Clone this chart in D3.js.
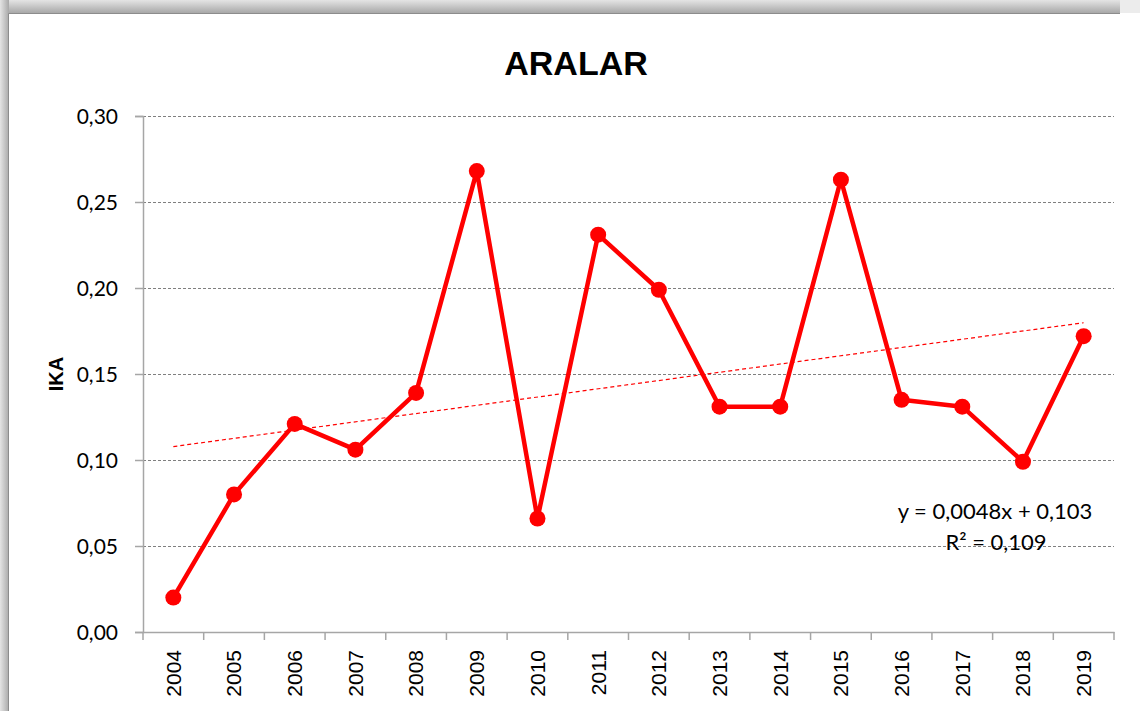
<!DOCTYPE html>
<html>
<head>
<meta charset="utf-8">
<script src="https://d3js.org/d3.v7.min.js"></script>
<style>
  body { margin: 0; background: #fff; }
  svg text { fill: #000; }
  .tick-y { font: 21px Lato, 'Open Sans', sans-serif; }
  .tick-x { font: 21px 'Liberation Sans', Arial, sans-serif; }
</style>
</head>
<body>
<svg width="1140" height="711"></svg>
<script>
  let years = ['2004','2005','2006','2007','2008','2009','2010','2011','2012','2013','2014','2015','2016','2017','2018','2019']
  let ika = [0.020, 0.080, 0.121, 0.106, 0.139, 0.268, 0.066, 0.231, 0.199, 0.131, 0.131, 0.263, 0.135, 0.131, 0.099, 0.172]
  let yTicks = [0, 0.05, 0.10, 0.15, 0.20, 0.25, 0.30]
  let trendSlope = 0.0048, trendIntercept = 0.103
  let eqLines = ['y = 0,0048x + 0,103', 'R² = 0,109']

  let svg = d3.select('svg')
  let margin = {left: 143, right: 26, top: 116, bottom: 79}
  let width = 1140 - margin.left - margin.right,
      height = 711 - margin.top - margin.bottom

  // frame with shadow edge
  let defs = svg.append('defs')
  let gt = defs.append('linearGradient').attr('id', 'gtop').attr('x1', 0).attr('y1', 0).attr('x2', 0).attr('y2', 1)
  gt.append('stop').attr('offset', '0%').attr('stop-color', '#e4e4e4')
  gt.append('stop').attr('offset', '100%').attr('stop-color', '#a8a8a8')
  let gl = defs.append('linearGradient').attr('id', 'gleft').attr('x1', 0).attr('y1', 0).attr('x2', 1).attr('y2', 0)
  gl.append('stop').attr('offset', '0%').attr('stop-color', '#e4e4e4')
  gl.append('stop').attr('offset', '100%').attr('stop-color', '#a8a8a8')
  svg.append('rect').attr('x', 0).attr('y', 0).attr('width', 1140).attr('height', 13).attr('fill', 'url(#gtop)')
  svg.append('rect').attr('x', 0).attr('y', 0).attr('width', 9).attr('height', 711).attr('fill', 'url(#gleft)')
  svg.append('rect').attr('x', 1120).attr('y', 0).attr('width', 20).attr('height', 13).attr('fill', '#ececec')
  svg.append('line').attr('x1', 8.5).attr('x2', 1120).attr('y1', 13.5).attr('y2', 13.5).attr('stroke', '#8c8c8c')
  svg.append('line').attr('x1', 8.5).attr('x2', 8.5).attr('y1', 13.5).attr('y2', 711).attr('stroke', '#8c8c8c')

  let x = d3.scaleBand().domain(years).range([margin.left, margin.left + width])
  let y = d3.scaleLinear().domain([0, 0.30]).range([margin.top + height, margin.top])
  let fmt = d => d3.format('.2f')(d).replace('.', ',')

  // gridlines
  svg.append('g').selectAll('line')
    .data(yTicks.filter(d => d > 0))
    .enter().append('line')
    .attr('x1', margin.left).attr('x2', margin.left + width)
    .attr('y1', d => Math.round(y(d)) + 0.5).attr('y2', d => Math.round(y(d)) + 0.5)
    .attr('stroke', '#7f7f7f').attr('stroke-width', 1).attr('stroke-dasharray', '3,2')

  // y axis
  let yAxis = svg.append('g')
    .attr('transform', 'translate(' + margin.left + ',0)')
    .call(d3.axisLeft(y).tickValues(yTicks).tickFormat(fmt).tickSize(8).tickPadding(17))
  yAxis.select('.domain').attr('stroke', '#a6a6a6').attr('stroke-width', 1.5)
  yAxis.selectAll('.tick line').attr('stroke', '#a6a6a6').attr('stroke-width', 1.5)
  yAxis.selectAll('text').attr('class', 'tick-y').attr('dy', '0.35em')

  // x axis
  let xAxis = svg.append('g')
    .attr('transform', 'translate(0,' + (margin.top + height) + ')')
    .call(d3.axisBottom(x).tickSize(0))
  xAxis.select('.domain').attr('stroke', '#a6a6a6').attr('stroke-width', 1.5)
  xAxis.selectAll('.tick text')
    .attr('class', 'tick-x')
    .attr('transform', 'rotate(-90)')
    .attr('text-anchor', 'end')
    .attr('x', -18).attr('y', 0).attr('dy', '0.35em')
  xAxis.selectAll('.sep')
    .data(years.concat(['end']))
    .enter().append('line')
    .attr('x1', (d, i) => margin.left + i * x.bandwidth())
    .attr('x2', (d, i) => margin.left + i * x.bandwidth())
    .attr('y1', 0).attr('y2', 8)
    .attr('stroke', '#a6a6a6').attr('stroke-width', 1.5)

  // trendline
  let cx = d => x(d) + x.bandwidth() / 2
  svg.append('line')
    .attr('x1', cx(years[0])).attr('y1', y(trendSlope * 1 + trendIntercept))
    .attr('x2', cx(years[years.length - 1])).attr('y2', y(trendSlope * years.length + trendIntercept))
    .attr('stroke', '#ff0000').attr('stroke-width', 1.2).attr('stroke-dasharray', '4,3')

  // series
  let pts = years.map((d, i) => [cx(d), y(ika[i])])
  svg.append('path')
    .attr('d', d3.line()(pts))
    .attr('fill', 'none').attr('stroke', '#ff0000').attr('stroke-width', 4.5)
    .attr('stroke-linejoin', 'round')
  svg.append('g').selectAll('circle')
    .data(pts).enter().append('circle')
    .attr('cx', d => d[0]).attr('cy', d => d[1]).attr('r', 8)
    .attr('fill', '#ff0000')

  // titles
  svg.append('text')
    .attr('x', 576).attr('y', 75)
    .attr('text-anchor', 'middle')
    .style('font', 'bold 34px "Liberation Sans", Arial, sans-serif')
    .text('ARALAR')
  svg.append('text')
    .attr('transform', 'translate(63,' + y(0.15) + ') rotate(-90)')
    .attr('text-anchor', 'middle')
    .style('font', 'bold 20px "Liberation Sans", Arial, sans-serif')
    .text('IKA')

  // equation
  svg.append('text').attr('x', 995).attr('y', 519).attr('text-anchor', 'middle')
    .style('font', '22px Lato, sans-serif').text(eqLines[0])
  svg.append('text').attr('x', 996).attr('y', 550).attr('text-anchor', 'middle')
    .style('font', '22px Lato, sans-serif').text(eqLines[1])
</script>
</body>
</html>
